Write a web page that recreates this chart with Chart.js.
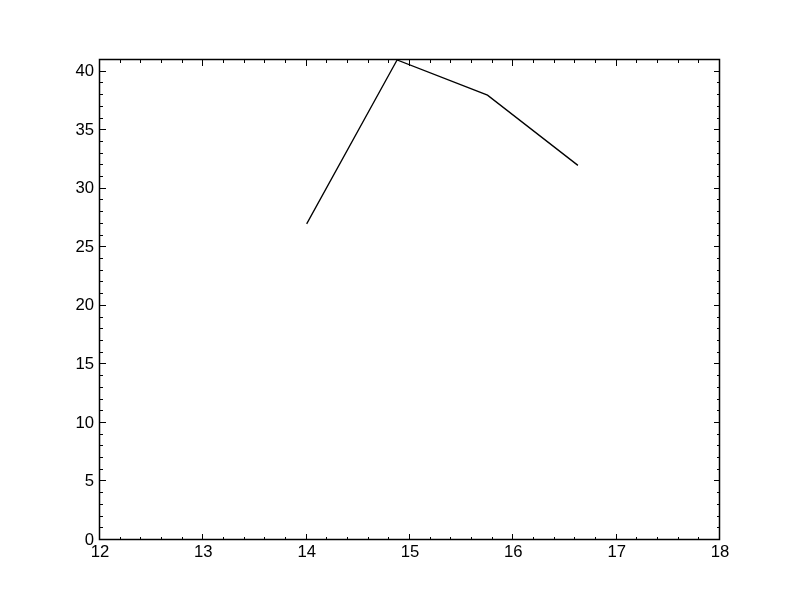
<!DOCTYPE html>
<html lang="en">
<head>
    <meta charset="UTF-8">
    <title>Line chart</title>
    <script src="https://cdn.jsdelivr.net/npm/chart.js"></script>
    <style>
        html, body { margin: 0; padding: 0; background: #fff; }
        #wrap { width: 800px; height: 600px; }
    </style>
</head>
<body>
    <div id="wrap"><canvas id="chart" width="800" height="600"></canvas></div>

    <script>
        // data
        const xValues = [14, 14.875, 15.75, 16.625];
        const yValues = [27, 41, 38, 32];
        const xTicks = [12, 13, 14, 15, 16, 17, 18];
        const yTicks = [0, 5, 10, 15, 20, 25, 30, 35, 40];

        // inward ticks on all four sides, with minor ticks, plus the frame
        const frameTicks = {
            id: 'frameTicks',
            afterDraw(chart) {
                const ctx = chart.ctx;
                const a = chart.chartArea;
                const xs = chart.scales.x, ys = chart.scales.y;
                ctx.save();
                ctx.strokeStyle = '#000';
                ctx.lineWidth = 1;
                ctx.beginPath();
                // x ticks (major every 1, minor every 0.2)
                for (let i = 0; i <= 30; i++) {
                    const v = xs.min + i * 0.2;
                    const px = Math.round(xs.getPixelForValue(v)) - 0.5;
                    const len = i % 5 === 0 ? 6 : 3;
                    ctx.moveTo(px, a.bottom); ctx.lineTo(px, a.bottom - len);
                    ctx.moveTo(px, a.top); ctx.lineTo(px, a.top + len);
                }
                // y ticks (major every 5, minor every 1)
                for (let v = 0; v <= 41; v++) {
                    const py = Math.round(ys.getPixelForValue(v)) - 0.5;
                    const len = v % 5 === 0 ? 6 : 3;
                    ctx.moveTo(a.left, py); ctx.lineTo(a.left + len, py);
                    ctx.moveTo(a.right, py); ctx.lineTo(a.right - len, py);
                }
                ctx.stroke();
                ctx.lineWidth = 1.5;
                ctx.strokeRect(a.left - 0.5, a.top - 0.5, a.right - a.left, a.bottom - a.top);
                ctx.restore();
            }
        };

        const tickFont = { family: '"Liberation Sans", Arial, sans-serif', size: 16.7 };

        new Chart(document.getElementById('chart'), {
            type: 'line',
            data: {
                datasets: [{
                    data: xValues.map((x, i) => ({ x: x, y: yValues[i] })),
                    borderColor: '#000',
                    borderWidth: 1.3,
                    pointRadius: 0,
                    tension: 0,
                    fill: false
                }]
            },
            options: {
                responsive: false,
                animation: false,
                layout: { padding: { top: 60, right: 80, left: 0, bottom: 0 } },
                plugins: { legend: { display: false }, tooltip: { enabled: false } },
                scales: {
                    x: {
                        type: 'linear',
                        min: 12,
                        max: 18,
                        afterBuildTicks: s => { s.ticks = xTicks.map(v => ({ value: v })); },
                        afterFit: s => { s.height = 60; },
                        grid: { display: false, drawTicks: false },
                        border: { display: false },
                        ticks: { color: '#000', font: tickFont, padding: 2, maxRotation: 0 }
                    },
                    y: {
                        type: 'linear',
                        min: 0,
                        max: 41,
                        afterBuildTicks: s => { s.ticks = yTicks.map(v => ({ value: v })); },
                        afterFit: s => { s.width = 100; },
                        grid: { display: false, drawTicks: false },
                        border: { display: false },
                        ticks: { color: '#000', font: tickFont, padding: 6 }
                    }
                }
            },
            plugins: [frameTicks]
        });
    </script>
</body>
</html>
